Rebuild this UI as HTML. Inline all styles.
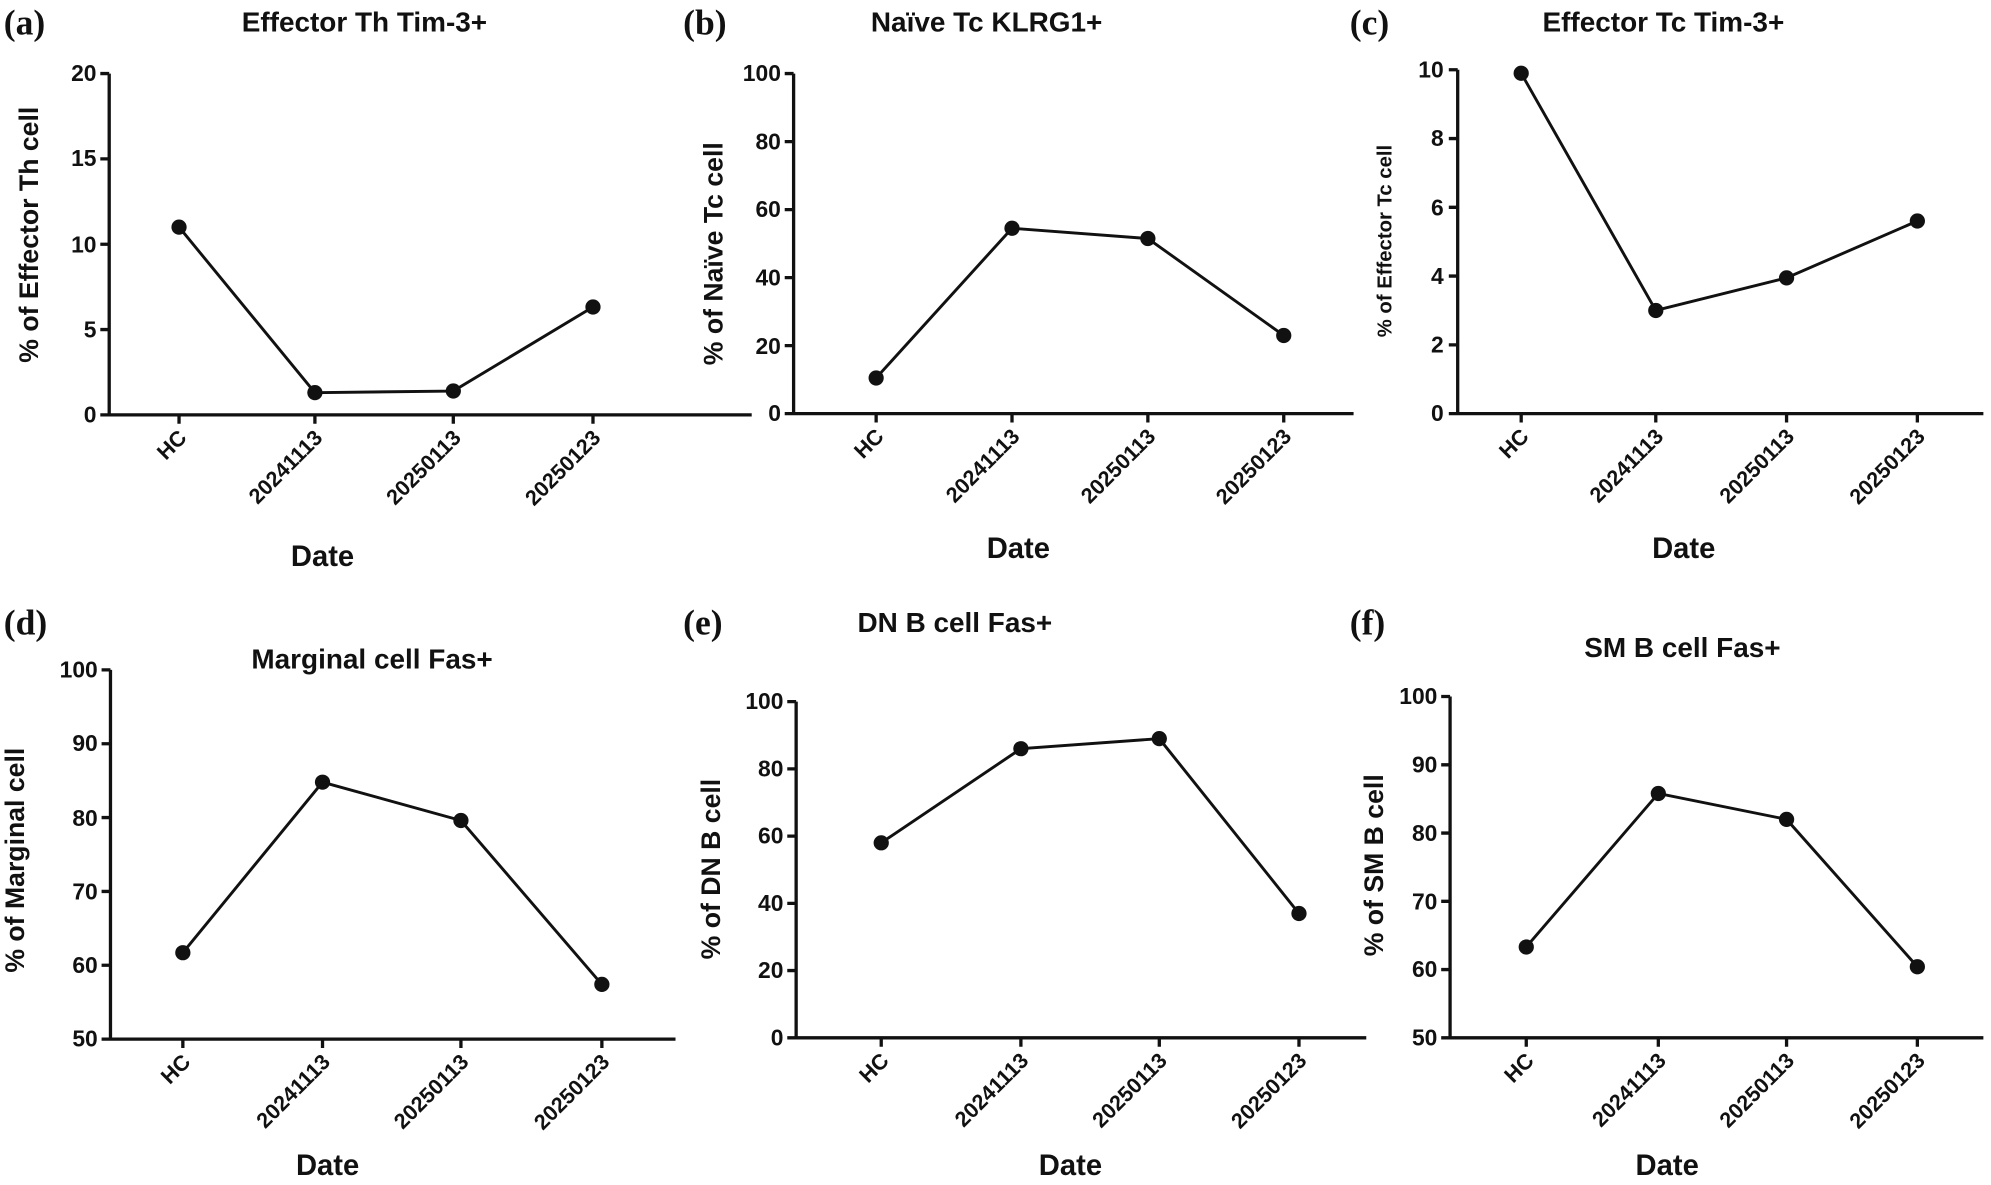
<!DOCTYPE html>
<html><head><meta charset="utf-8"><style>
html,body{margin:0;padding:0;background:#fff}
svg{display:block}
text{font-family:"Liberation Sans",Arial,sans-serif;font-weight:bold;fill:#111}
.t{font-size:22px;text-anchor:middle}
.k{font-size:18px;text-anchor:end}
.r{font-size:17px;text-anchor:end}
.d{font-size:23px;text-anchor:middle}
.yl{font-size:21px;text-anchor:middle}
.p{font-family:"Liberation Serif",serif;font-size:28px}
.ax{stroke:#111;stroke-width:2.6;fill:none}
.ln{stroke:#111;stroke-width:2.3;fill:none}
</style></head><body>
<svg width="1991" height="1185" viewBox="0 0 1568 934" preserveAspectRatio="none">
<!-- Panel a -->
<text class="p" x="3" y="27">(a)</text>
<text class="t" x="287" y="25">Effector Th Tim-3+</text>
<path class="ax" d="M86 58V327H592M79 58H86M79 125.25H86M79 192.5H86M79 259.75H86M79 327H86M141 327v7M248 327v7M357 327v7M467 327v7"/>
<text class="k" x="76" y="64">20</text><text class="k" x="76" y="131">15</text><text class="k" x="76" y="199">10</text><text class="k" x="76" y="266">5</text><text class="k" x="76" y="333">0</text>
<polyline class="ln" points="141,179 248,309.5 357,308.2 467,242"/>
<g fill="#111"><circle cx="141" cy="179" r="6"/><circle cx="248" cy="309.5" r="6"/><circle cx="357" cy="308.2" r="6"/><circle cx="467" cy="242" r="6"/></g>
<text class="r" transform="translate(148,346) rotate(-45)">HC</text>
<text class="r" transform="translate(255,346) rotate(-45)">20241113</text>
<text class="r" transform="translate(364,346) rotate(-45)">20250113</text>
<text class="r" transform="translate(474,346) rotate(-45)">20250123</text>
<text class="d" x="254" y="446">Date</text>
<text class="yl" transform="translate(30,185) rotate(-90)">% of Effector Th cell</text>

<!-- Panel b -->
<text class="p" x="538" y="27">(b)</text>
<text class="t" x="777" y="25">Naïve Tc KLRG1+</text>
<path class="ax" d="M625 58V326H1066M618 58H625M618 111.6H625M618 165.2H625M618 218.8H625M618 272.4H625M618 326H625M690 326v7M797 326v7M904 326v7M1011 326v7"/>
<text class="k" x="615" y="64">100</text><text class="k" x="615" y="118">80</text><text class="k" x="615" y="171">60</text><text class="k" x="615" y="225">40</text><text class="k" x="615" y="279">20</text><text class="k" x="615" y="332">0</text>
<polyline class="ln" points="690,297.9 797,179.9 904,188 1011,264.4"/>
<g fill="#111"><circle cx="690" cy="297.9" r="6"/><circle cx="797" cy="179.9" r="6"/><circle cx="904" cy="188" r="6"/><circle cx="1011" cy="264.4" r="6"/></g>
<text class="r" transform="translate(697,345) rotate(-45)">HC</text>
<text class="r" transform="translate(804,345) rotate(-45)">20241113</text>
<text class="r" transform="translate(911,345) rotate(-45)">20250113</text>
<text class="r" transform="translate(1018,345) rotate(-45)">20250123</text>
<text class="d" x="802" y="440">Date</text>
<text class="yl" transform="translate(569,200) rotate(-90)">% of Naïve Tc cell</text>

<!-- Panel c -->
<text class="p" x="1063" y="27">(c)</text>
<text class="t" x="1310" y="25">Effector Tc Tim-3+</text>
<path class="ax" d="M1148 55V326H1562M1141 55H1148M1141 109.2H1148M1141 163.4H1148M1141 217.6H1148M1141 271.8H1148M1141 326H1148M1198 326v7M1304 326v7M1407 326v7M1510 326v7"/>
<text class="k" x="1137" y="61">10</text><text class="k" x="1137" y="115">8</text><text class="k" x="1137" y="170">6</text><text class="k" x="1137" y="224">4</text><text class="k" x="1137" y="278">2</text><text class="k" x="1137" y="332">0</text>
<polyline class="ln" points="1198,57.7 1304,244.7 1407,219 1510,174.2"/>
<g fill="#111"><circle cx="1198" cy="57.7" r="6"/><circle cx="1304" cy="244.7" r="6"/><circle cx="1407" cy="219" r="6"/><circle cx="1510" cy="174.2" r="6"/></g>
<text class="r" transform="translate(1205,345) rotate(-45)">HC</text>
<text class="r" transform="translate(1311,345) rotate(-45)">20241113</text>
<text class="r" transform="translate(1414,345) rotate(-45)">20250113</text>
<text class="r" transform="translate(1517,345) rotate(-45)">20250123</text>
<text class="d" x="1326" y="440">Date</text>
<text class="yl" style="font-size:16px" transform="translate(1096,190) rotate(-90)">% of Effector Tc cell</text>

<!-- Panel d -->
<text class="p" x="3" y="500">(d)</text>
<text class="t" x="293" y="527">Marginal cell Fas+</text>
<path class="ax" d="M87 528V819H532M80 528H87M80 586.2H87M80 644.4H87M80 702.6H87M80 760.8H87M80 819H87M144 819v7M254 819v7M363 819v7M474 819v7"/>
<text class="k" x="77" y="534">100</text><text class="k" x="77" y="592">90</text><text class="k" x="77" y="651">80</text><text class="k" x="77" y="709">70</text><text class="k" x="77" y="767">60</text><text class="k" x="77" y="825">50</text>
<polyline class="ln" points="144,750.9 254,616.5 363,646.7 474,775.9"/>
<g fill="#111"><circle cx="144" cy="750.9" r="6"/><circle cx="254" cy="616.5" r="6"/><circle cx="363" cy="646.7" r="6"/><circle cx="474" cy="775.9" r="6"/></g>
<text class="r" transform="translate(151,838) rotate(-45)">HC</text>
<text class="r" transform="translate(261,838) rotate(-45)">20241113</text>
<text class="r" transform="translate(370,838) rotate(-45)">20250113</text>
<text class="r" transform="translate(481,838) rotate(-45)">20250123</text>
<text class="d" x="258" y="926">Date</text>
<text class="yl" transform="translate(19,678) rotate(-90)">% of Marginal cell</text>

<!-- Panel e -->
<text class="p" x="538" y="500">(e)</text>
<text class="t" x="752" y="498">DN B cell Fas+</text>
<path class="ax" d="M627 553V818H1076M620 553H627M620 606H627M620 659H627M620 712H627M620 765H627M620 818H627M694 818v7M804 818v7M913 818v7M1023 818v7"/>
<text class="k" x="617" y="559">100</text><text class="k" x="617" y="612">80</text><text class="k" x="617" y="665">60</text><text class="k" x="617" y="718">40</text><text class="k" x="617" y="771">20</text><text class="k" x="617" y="824">0</text>
<polyline class="ln" points="694,664.3 804,590.1 913,582.2 1023,720"/>
<g fill="#111"><circle cx="694" cy="664.3" r="6"/><circle cx="804" cy="590.1" r="6"/><circle cx="913" cy="582.2" r="6"/><circle cx="1023" cy="720" r="6"/></g>
<text class="r" transform="translate(701,837) rotate(-45)">HC</text>
<text class="r" transform="translate(811,837) rotate(-45)">20241113</text>
<text class="r" transform="translate(920,837) rotate(-45)">20250113</text>
<text class="r" transform="translate(1030,837) rotate(-45)">20250123</text>
<text class="d" x="843" y="926">Date</text>
<text class="yl" transform="translate(567,685) rotate(-90)">% of DN B cell</text>

<!-- Panel f -->
<text class="p" x="1063" y="500">(f)</text>
<text class="t" x="1325" y="518">SM B cell Fas+</text>
<path class="ax" d="M1142 549V818H1562M1135 549H1142M1135 602.8H1142M1135 656.6H1142M1135 710.4H1142M1135 764.2H1142M1135 818H1142M1202 818v7M1306 818v7M1407 818v7M1510 818v7"/>
<text class="k" x="1132" y="555">100</text><text class="k" x="1132" y="609">90</text><text class="k" x="1132" y="663">80</text><text class="k" x="1132" y="717">70</text><text class="k" x="1132" y="770">60</text><text class="k" x="1132" y="824">50</text>
<polyline class="ln" points="1202,746.4 1306,625.4 1407,645.8 1510,762"/>
<g fill="#111"><circle cx="1202" cy="746.4" r="6"/><circle cx="1306" cy="625.4" r="6"/><circle cx="1407" cy="645.8" r="6"/><circle cx="1510" cy="762" r="6"/></g>
<text class="r" transform="translate(1209,837) rotate(-45)">HC</text>
<text class="r" transform="translate(1313,837) rotate(-45)">20241113</text>
<text class="r" transform="translate(1414,837) rotate(-45)">20250113</text>
<text class="r" transform="translate(1517,837) rotate(-45)">20250123</text>
<text class="d" x="1313" y="926">Date</text>
<text class="yl" transform="translate(1089,682) rotate(-90)">% of SM B cell</text>
</svg>
</body></html>
